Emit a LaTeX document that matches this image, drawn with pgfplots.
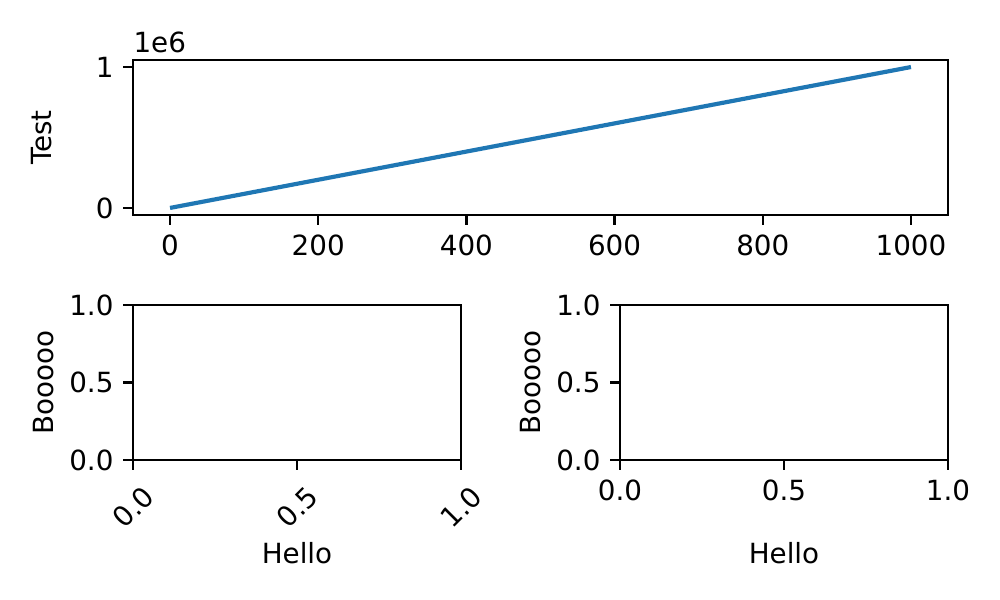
\documentclass[border=0pt]{standalone}
\usepackage{fontspec}
\setmainfont{DejaVu Sans}
\usepackage{pgfplots}
\pgfplotsset{compat=1.18}
\definecolor{mplblue}{HTML}{1F77B4}
\pgfplotsset{
  mpl/.style={
    scale only axis, anchor=south west,
    axis line style={line width=0.8pt},
    every tick/.style={black, line width=0.8pt},
    tick align=outside, major tick length=3.5pt,
    xtick pos=left, ytick pos=left,
    /pgf/number format/assume math mode=true,
    tick label style={font=\fontsize{10}{12}\selectfont},
    label style={font=\fontsize{10}{12}\selectfont},
    scaled ticks=false,
  },
  unitnum/.style={
    /pgf/number format/fixed,
    /pgf/number format/fixed zerofill,
    /pgf/number format/precision=1,
  },
}
\begin{document}
\begin{tikzpicture}
\fill[white] (0,0) rectangle (360pt,216pt);
\useasboundingbox (0,0) rectangle (360pt,216pt);
% top
\begin{axis}[mpl, at={(47.88pt,138.6pt)}, width=293.4pt, height=55.8pt,
  xmin=-50, xmax=1050, ymin=-50000, ymax=1050000,
  xtick={0,200,400,600,800,1000},
  /pgf/number format/1000 sep={},
  ytick={0,1000000}, yticklabels={0,1},
  ylabel={Test},
  ylabel style={at={(axis description cs:-0.112,0.5)}, anchor=center},
  clip=false]
\addplot[mplblue, line width=1.5pt] coordinates {(0,0) (200,200000) (400,400000) (600,600000) (800,800000) (1000,1000000)};
\node[anchor=south west, inner sep=0pt, font=\fontsize{10}{12}\selectfont] at (rel axis cs:0,1.04) {1e6};
\end{axis}
% bottom left
\begin{axis}[mpl, unitnum, at={(47.88pt,50.4pt)}, width=118.08pt, height=55.8pt,
  xmin=0, xmax=1, ymin=0, ymax=1,
  xtick={0,0.5,1}, ytick={0,0.5,1},
  xticklabel style={rotate=45, anchor=center, xshift=-9.55pt, yshift=-9.55pt},
  xlabel={Hello}, ylabel={Booooo},
  xlabel style={at={(axis description cs:0.5,-0.6)}, anchor=center},
  ylabel style={at={(axis description cs:-0.272,0.5)}, anchor=center}]
\end{axis}
% bottom right
\begin{axis}[mpl, unitnum, at={(223.2pt,50.4pt)}, width=118.08pt, height=55.8pt,
  xmin=0, xmax=1, ymin=0, ymax=1,
  xtick={0,0.5,1}, ytick={0,0.5,1},
  xlabel={Hello}, ylabel={Booooo},
  xlabel style={at={(axis description cs:0.5,-0.6)}, anchor=center},
  ylabel style={at={(axis description cs:-0.272,0.5)}, anchor=center}]
\end{axis}
\end{tikzpicture}
\end{document}
